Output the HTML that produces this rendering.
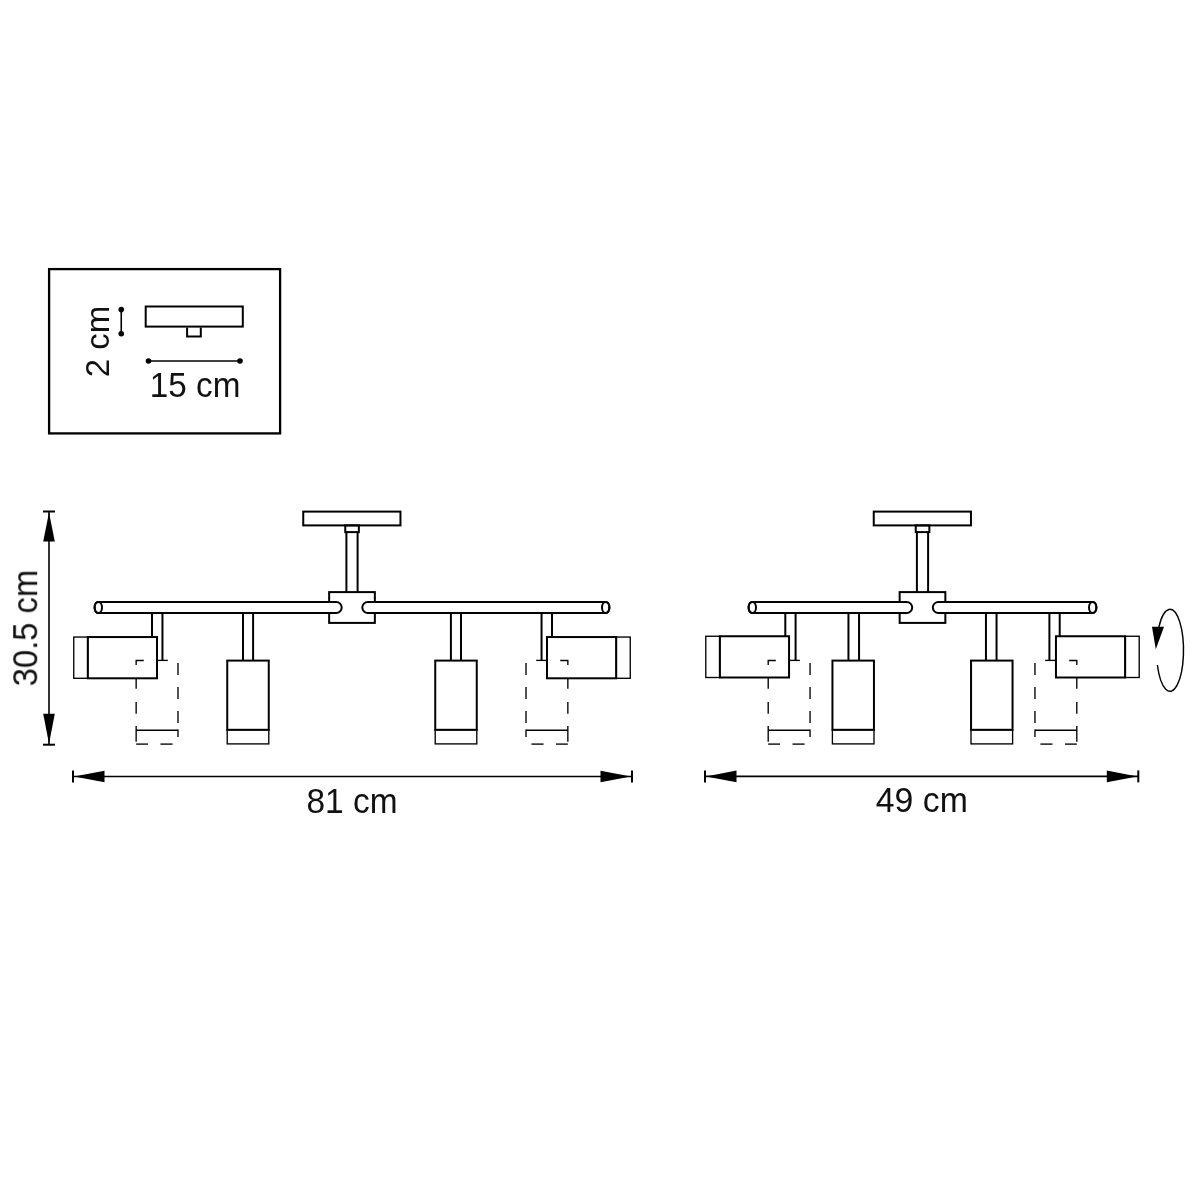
<!DOCTYPE html>
<html><head><meta charset="utf-8"><style>
html,body{margin:0;padding:0;background:#fff;}
svg{display:block;}
</style></head><body>
<svg width="1200" height="1200" viewBox="0 0 1200 1200">
<rect x="0" y="0" width="1200" height="1200" fill="#fff"/>
<g fill="none" stroke="#000" stroke-linecap="butt" stroke-linejoin="miter">
<rect x="49.1" y="269.1" width="231" height="164.3" stroke-width="2.3" />
<rect x="145.7" y="306.5" width="97.1" height="20.1" stroke-width="2" />
<path d="M187.1 327.4 V336.6 H200.8 V327.4" stroke-width="2"/>
<line x1="148.5" y1="361" x2="240" y2="361" stroke-width="1.6" />
<circle cx="148.5" cy="361" r="2.8" fill="#000" stroke="none"/>
<circle cx="240" cy="361" r="2.8" fill="#000" stroke="none"/>
<line x1="121.25" y1="309.6" x2="121.25" y2="333.75" stroke-width="1.6" />
<circle cx="121.25" cy="309.6" r="2.8" fill="#000" stroke="none"/>
<circle cx="121.25" cy="333.75" r="2.8" fill="#000" stroke="none"/>
<rect x="303.25" y="511.6" width="97.2" height="13.8" stroke-width="2.0" />
<rect x="345.25" y="525.4" width="13.6" height="6.7" stroke-width="2.0" />
<line x1="346.4" y1="532" x2="346.4" y2="592.1" stroke-width="2.0" />
<line x1="357.6" y1="532" x2="357.6" y2="592.1" stroke-width="2.0" />
<rect x="329.15" y="592.1" width="45.7" height="30.8" stroke-width="2.0" fill="#fff"/>
<path d="M98.3 602 H336.2 A5.5 5.5 0 0 1 336.2 613 H98.3 A3.7 5.5 0 0 1 98.3 602 Z" fill="#fff" stroke-width="2.0"/>
<ellipse cx="98.3" cy="607.5" rx="3.7" ry="5.5" stroke-width="2.0"/>
<path d="M605.7 602 H367.8 A5.5 5.5 0 0 0 367.8 613 H605.7 A3.7 5.5 0 0 0 605.7 602 Z" fill="#fff" stroke-width="2.0"/>
<ellipse cx="605.7" cy="607.5" rx="3.7" ry="5.5" stroke-width="2.0"/>
<line x1="243" y1="613" x2="243" y2="660.6" stroke-width="2.0" />
<line x1="253.1" y1="613" x2="253.1" y2="660.6" stroke-width="2.0" />
<rect x="227.25" y="660.6" width="41.5" height="69.2" stroke-width="2.0" />
<rect x="227.2" y="729.8" width="41.6" height="14.1" stroke-width="1.35" />
<line x1="450.9" y1="613" x2="450.9" y2="660.6" stroke-width="2.0" />
<line x1="461" y1="613" x2="461" y2="660.6" stroke-width="2.0" />
<rect x="435.25" y="660.6" width="41.5" height="69.2" stroke-width="2.0" />
<rect x="435.2" y="729.8" width="41.6" height="14.1" stroke-width="1.35" />
<line x1="152" y1="613" x2="152" y2="637.05" stroke-width="2.0" />
<line x1="162.45" y1="613" x2="162.45" y2="660.4" stroke-width="2.0" />
<line x1="157.5" y1="660.4" x2="167.8" y2="660.4" stroke-width="1.35" />
<rect x="73.75" y="637.05" width="14.05" height="41.25" stroke-width="1.35" />
<rect x="87.8" y="637.05" width="69.2" height="41.25" stroke-width="2.0" />
<path d="M143.75 660.5 H136.15 V665" stroke-width="1.35"/>
<line x1="136.15" y1="678.3" x2="136.15" y2="688.8" stroke-width="1.35" />
<line x1="136.15" y1="702" x2="136.15" y2="713.8" stroke-width="1.35" />
<line x1="136.15" y1="726" x2="136.15" y2="741.8" stroke-width="1.35" />
<line x1="178" y1="663" x2="178" y2="675" stroke-width="1.35" />
<line x1="178" y1="687" x2="178" y2="699" stroke-width="1.35" />
<line x1="178" y1="711" x2="178" y2="723" stroke-width="1.35" />
<line x1="178" y1="729.6" x2="178" y2="737" stroke-width="1.35" />
<line x1="136.15" y1="730.25" x2="178" y2="730.25" stroke-width="1.35" />
<line x1="136.15" y1="744.1" x2="147.95" y2="744.1" stroke-width="1.35" />
<line x1="160.45" y1="744.1" x2="172.55" y2="744.1" stroke-width="1.35" />
<line x1="552" y1="613" x2="552" y2="637.05" stroke-width="2.0" />
<line x1="541.55" y1="613" x2="541.55" y2="660.4" stroke-width="2.0" />
<line x1="546.5" y1="660.4" x2="536.2" y2="660.4" stroke-width="1.35" />
<rect x="616.2" y="637.05" width="14.05" height="41.25" stroke-width="1.35" />
<rect x="547" y="637.05" width="69.2" height="41.25" stroke-width="2.0" />
<path d="M560.25 660.5 H567.85 V665" stroke-width="1.35"/>
<line x1="567.85" y1="678.3" x2="567.85" y2="688.8" stroke-width="1.35" />
<line x1="567.85" y1="702" x2="567.85" y2="713.8" stroke-width="1.35" />
<line x1="567.85" y1="726" x2="567.85" y2="741.8" stroke-width="1.35" />
<line x1="526" y1="663" x2="526" y2="675" stroke-width="1.35" />
<line x1="526" y1="687" x2="526" y2="699" stroke-width="1.35" />
<line x1="526" y1="711" x2="526" y2="723" stroke-width="1.35" />
<line x1="526" y1="729.6" x2="526" y2="737" stroke-width="1.35" />
<line x1="526" y1="730.25" x2="567.85" y2="730.25" stroke-width="1.35" />
<line x1="556.05" y1="744.1" x2="567.85" y2="744.1" stroke-width="1.35" />
<line x1="531.45" y1="744.1" x2="543.55" y2="744.1" stroke-width="1.35" />
<rect x="873.75" y="511.6" width="97.2" height="13.8" stroke-width="2.0" />
<rect x="915.75" y="525.4" width="13.6" height="6.7" stroke-width="2.0" />
<line x1="916.9" y1="532" x2="916.9" y2="592.1" stroke-width="2.0" />
<line x1="928.1" y1="532" x2="928.1" y2="592.1" stroke-width="2.0" />
<rect x="899.65" y="592.1" width="45.7" height="30.8" stroke-width="2.0" fill="#fff"/>
<path d="M752.3 602 H906.7 A5.5 5.5 0 0 1 906.7 613 H752.3 A3.7 5.5 0 0 1 752.3 602 Z" fill="#fff" stroke-width="2.0"/>
<ellipse cx="752.3" cy="607.5" rx="3.7" ry="5.5" stroke-width="2.0"/>
<path d="M1092.7 602 H938.3 A5.5 5.5 0 0 0 938.3 613 H1092.7 A3.7 5.5 0 0 0 1092.7 602 Z" fill="#fff" stroke-width="2.0"/>
<ellipse cx="1092.7" cy="607.5" rx="3.7" ry="5.5" stroke-width="2.0"/>
<line x1="848.45" y1="613" x2="848.45" y2="660.6" stroke-width="2.0" />
<line x1="859.05" y1="613" x2="859.05" y2="660.6" stroke-width="2.0" />
<rect x="832.45" y="660.6" width="41.5" height="69.2" stroke-width="2.0" />
<rect x="832.4" y="729.8" width="41.6" height="14.1" stroke-width="1.35" />
<line x1="985.95" y1="613" x2="985.95" y2="660.6" stroke-width="2.0" />
<line x1="996.55" y1="613" x2="996.55" y2="660.6" stroke-width="2.0" />
<rect x="971.05" y="660.6" width="41.5" height="69.2" stroke-width="2.0" />
<rect x="971" y="729.8" width="41.6" height="14.1" stroke-width="1.35" />
<line x1="785.3" y1="613" x2="785.3" y2="636.25" stroke-width="2.0" />
<line x1="795.6" y1="613" x2="795.6" y2="660.4" stroke-width="2.0" />
<line x1="789.55" y1="660.4" x2="799.85" y2="660.4" stroke-width="1.35" />
<rect x="705.8" y="636.25" width="14.05" height="41.25" stroke-width="1.35" />
<rect x="719.85" y="636.25" width="69.2" height="41.25" stroke-width="2.0" />
<path d="M775.8 660.5 H768.2 V665" stroke-width="1.35"/>
<line x1="768.2" y1="677.5" x2="768.2" y2="688.8" stroke-width="1.35" />
<line x1="768.2" y1="702" x2="768.2" y2="713.8" stroke-width="1.35" />
<line x1="768.2" y1="726" x2="768.2" y2="741.8" stroke-width="1.35" />
<line x1="810.05" y1="663" x2="810.05" y2="675" stroke-width="1.35" />
<line x1="810.05" y1="687" x2="810.05" y2="699" stroke-width="1.35" />
<line x1="810.05" y1="711" x2="810.05" y2="723" stroke-width="1.35" />
<line x1="810.05" y1="729.6" x2="810.05" y2="737" stroke-width="1.35" />
<line x1="768.2" y1="730.25" x2="810.05" y2="730.25" stroke-width="1.35" />
<line x1="768.2" y1="744.1" x2="780" y2="744.1" stroke-width="1.35" />
<line x1="792.5" y1="744.1" x2="804.6" y2="744.1" stroke-width="1.35" />
<line x1="1059.7" y1="613" x2="1059.7" y2="636.25" stroke-width="2.0" />
<line x1="1049.4" y1="613" x2="1049.4" y2="660.4" stroke-width="2.0" />
<line x1="1055.45" y1="660.4" x2="1045.15" y2="660.4" stroke-width="1.35" />
<rect x="1125.15" y="636.25" width="14.05" height="41.25" stroke-width="1.35" />
<rect x="1055.95" y="636.25" width="69.2" height="41.25" stroke-width="2.0" />
<path d="M1069.2 660.5 H1076.8 V665" stroke-width="1.35"/>
<line x1="1076.8" y1="677.5" x2="1076.8" y2="688.8" stroke-width="1.35" />
<line x1="1076.8" y1="702" x2="1076.8" y2="713.8" stroke-width="1.35" />
<line x1="1076.8" y1="726" x2="1076.8" y2="741.8" stroke-width="1.35" />
<line x1="1034.95" y1="663" x2="1034.95" y2="675" stroke-width="1.35" />
<line x1="1034.95" y1="687" x2="1034.95" y2="699" stroke-width="1.35" />
<line x1="1034.95" y1="711" x2="1034.95" y2="723" stroke-width="1.35" />
<line x1="1034.95" y1="729.6" x2="1034.95" y2="737" stroke-width="1.35" />
<line x1="1034.95" y1="730.25" x2="1076.8" y2="730.25" stroke-width="1.35" />
<line x1="1065" y1="744.1" x2="1076.8" y2="744.1" stroke-width="1.35" />
<line x1="1040.4" y1="744.1" x2="1052.5" y2="744.1" stroke-width="1.35" />
<line x1="49" y1="511.5" x2="49" y2="744.7" stroke-width="1.6" />
<line x1="43" y1="511.5" x2="55" y2="511.5" stroke-width="2" />
<line x1="43" y1="744.7" x2="55" y2="744.7" stroke-width="2" />
<path d="M49 512.5 L43.2 541.5 H54.8 Z" fill="#000" stroke="none"/>
<path d="M49 743.7 L43.2 713.7 H54.8 Z" fill="#000" stroke="none"/>
<line x1="73" y1="776.5" x2="632" y2="776.5" stroke-width="1.6" />
<line x1="73" y1="770.5" x2="73" y2="782.5" stroke-width="2" />
<line x1="632" y1="770.5" x2="632" y2="782.5" stroke-width="2" />
<path d="M74 776.5 L104.5 770.7 V782.3 Z" fill="#000" stroke="none"/>
<path d="M631 776.5 L600.5 770.7 V782.3 Z" fill="#000" stroke="none"/>
<line x1="705" y1="776.4" x2="1138.3" y2="776.4" stroke-width="1.6" />
<line x1="705" y1="770.4" x2="705" y2="782.4" stroke-width="2" />
<line x1="1138.3" y1="770.4" x2="1138.3" y2="782.4" stroke-width="2" />
<path d="M706 776.4 L736.5 770.6 V782.2 Z" fill="#000" stroke="none"/>
<path d="M1137.3 776.4 L1106.8 770.6 V782.2 Z" fill="#000" stroke="none"/>
<path d="M1157.4 665 A13.5 41 0 1 0 1158.9 627" stroke-width="1.45"/>
<path d="M1152 626.8 L1164 626.8 L1155.8 649.3 Z" fill="#000" stroke="none"/>
</g>
<g fill="#111" opacity="0.999" font-family="'Liberation Sans', sans-serif">
<text x="0" y="0" font-size="34.3" transform="translate(149.8 397.3) scale(0.97 1)" text-anchor="start">15 cm</text>
<text x="0" y="0" font-size="34.0" transform="translate(108.6 377.2) rotate(-90) scale(0.97 1)" text-anchor="start">2 cm</text>
<text x="0" y="0" font-size="35.2" transform="translate(37.2 686.3) rotate(-90) scale(0.93 1)" text-anchor="start">30.5 cm</text>
<text x="0" y="0" font-size="34.8" transform="translate(306.5 812.6) scale(0.96 1)" text-anchor="start">81 cm</text>
<text x="0" y="0" font-size="34.3" transform="translate(875.8 812.4) scale(0.985 1)" text-anchor="start">49 cm</text>
</g>
</svg>
</body></html>
